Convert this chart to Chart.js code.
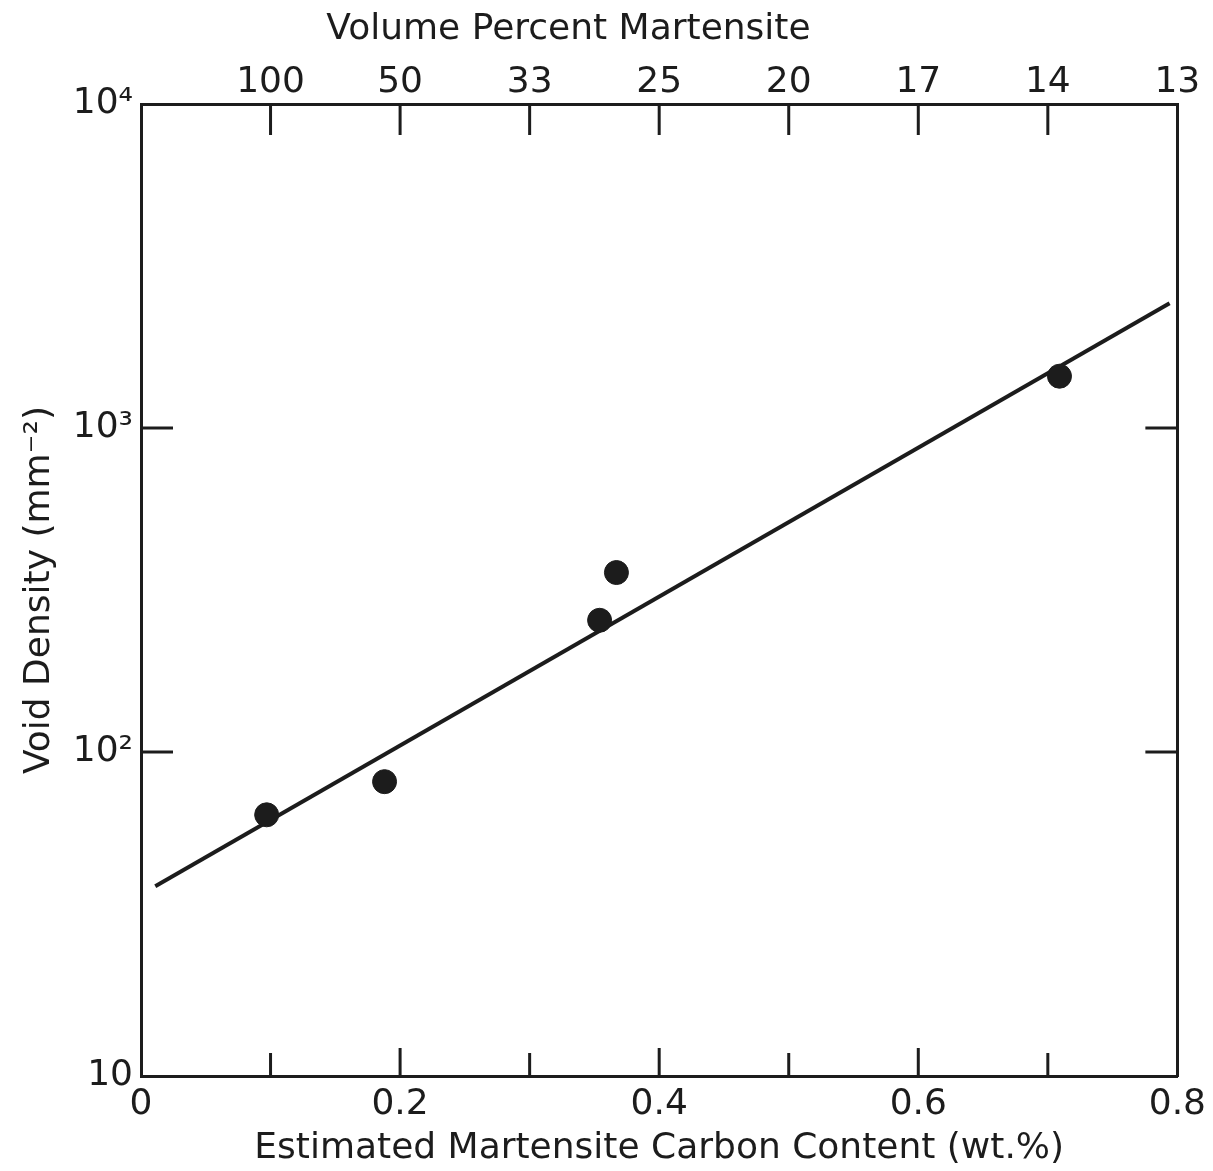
<!DOCTYPE html>
<html lang="en">
<head>
  <meta charset="UTF-8" />
  <title>Void Density vs Martensite Carbon Content</title>
  <style>
    body { margin: 0; background: #fff; }
    #wrap { width: 1213px; height: 1171px; }
  </style>
  <script src="https://cdn.jsdelivr.net/npm/chart.js"></script>
</head>
<body>
  <div id="wrap"><canvas id="chart"></canvas></div>
  <script>
    // DATA
    const carbon = [0.097, 0.188, 0.354, 0.367, 0.709];      // wt.%
    const voidDensity = [64, 81, 255, 358, 1445];            // mm^-2
    const fitX = [0.011, 0.794];
    const fitY = [38.5, 2425];

    // TICKS
    const xTickValues = [0, 0.1, 0.2, 0.3, 0.4, 0.5, 0.6, 0.7, 0.8];
    const xTickLabels = ['0', '', '0.2', '', '0.4', '', '0.6', '', '0.8'];
    const topTickValues = [0.1, 0.2, 0.3, 0.4, 0.5, 0.6, 0.7, 0.8];
    const topTickLabels = ['100', '50', '33', '25', '20', '17', '14', '13'];
    const yTickValues = [10, 100, 1000, 10000];
    const yTickLabels = ['10', '10²', '10³', '10⁴'];

    const INK = '#1c1c1c';
    const FONT = 'DejaVu Sans';

    // inward tick marks drawn off the chart's own scales
    const inwardTicks = {
      id: 'inwardTicks',
      afterDraw(chart) {
        const { ctx, chartArea: a, scales } = chart;
        ctx.save();
        ctx.strokeStyle = INK;
        ctx.lineWidth = 3;
        const line = (x1, y1, x2, y2) => { ctx.beginPath(); ctx.moveTo(x1, y1); ctx.lineTo(x2, y2); ctx.stroke(); };
        scales.x.ticks.forEach((t, i) => {
          if (i === 0 || i === scales.x.ticks.length - 1) return;
          const px = scales.x.getPixelForValue(t.value);
          line(px, a.bottom, px, a.bottom - (i % 2 === 0 ? 28 : 23));
        });
        scales.x2.ticks.forEach((t, i) => {
          if (i === scales.x2.ticks.length - 1) return;
          const px = scales.x2.getPixelForValue(t.value);
          line(px, a.top, px, a.top + 31);
        });
        scales.y.ticks.forEach((t, i) => {
          if (i === 0 || i === scales.y.ticks.length - 1) return;
          const py = scales.y.getPixelForValue(t.value);
          line(a.left, py, a.left + 32, py);
          line(a.right, py, a.right - 32, py);
        });
        ctx.restore();
      }
    };

    // top title sits left of the plot centre in the original
    const topTitle = {
      id: 'topTitle',
      afterDraw(chart) {
        const { ctx } = chart;
        const s = chart.scales.x2;
        ctx.save();
        ctx.fillStyle = INK;
        ctx.font = `36px "${FONT}"`;
        ctx.textAlign = 'center';
        ctx.textBaseline = 'middle';
        ctx.fillText('Volume Percent Martensite', s.getPixelForValue(0.33), 30);
        ctx.restore();
      }
    };

    const border = { display: true, color: INK, width: 3 };

    new Chart(document.getElementById('chart'), {
      type: 'scatter',
      data: {
        datasets: [
          {
            data: carbon.map((c, i) => ({ x: c, y: voidDensity[i] })),
            pointRadius: 12,
            pointHoverRadius: 12,
            backgroundColor: INK,
            borderColor: INK
          },
          {
            data: fitX.map((c, i) => ({ x: c, y: fitY[i] })),
            showLine: true,
            pointRadius: 0,
            borderColor: INK,
            borderWidth: 4
          }
        ]
      },
      options: {
        responsive: true,
        maintainAspectRatio: false,
        animation: false,
        layout: { padding: 0 },
        plugins: { legend: { display: false }, tooltip: { enabled: false } },
        scales: {
          x: {
            type: 'linear', position: 'bottom', min: 0, max: 0.8,
            afterBuildTicks: s => { s.ticks = xTickValues.map(v => ({ value: v })); },
            afterFit: s => { s.height = 95; },
            grid: { display: false, drawTicks: false },
            border,
            ticks: {
              color: INK, padding: 7, maxRotation: 0, autoSkip: false,
              font: { family: FONT, size: 36 },
              callback: (v, i) => xTickLabels[i]
            },
            title: {
              display: true, text: 'Estimated Martensite Carbon Content (wt.%)',
              color: INK, font: { family: FONT, size: 36 }, padding: { top: 0, bottom: 1 }
            }
          },
          x2: {
            type: 'linear', position: 'top', min: 0, max: 0.8,
            afterBuildTicks: s => { s.ticks = topTickValues.map(v => ({ value: v })); },
            afterFit: s => { s.height = 104; },
            grid: { display: false, drawTicks: false },
            border,
            ticks: {
              color: INK, padding: 0, maxRotation: 0, autoSkip: false,
              font: { family: FONT, size: 36 },
              callback: (v, i) => topTickLabels[i]
            }
          },
          y: {
            type: 'logarithmic', position: 'left', min: 10, max: 10000,
            afterBuildTicks: s => { s.ticks = yTickValues.map(v => ({ value: v })); },
            afterFit: s => { s.width = 141; },
            grid: { display: false, drawTicks: false },
            border,
            ticks: {
              color: INK, padding: 8, autoSkip: false,
              font: { family: FONT, size: 36 },
              callback: (v, i) => yTickLabels[i]
            },
            title: {
              display: true, text: 'Void Density (mm⁻²)',
              color: INK, font: { family: FONT, size: 36 }, padding: { top: 18, bottom: 0 }
            }
          },
          y2: {
            type: 'logarithmic', position: 'right', min: 10, max: 10000,
            afterFit: s => { s.width = 34; },
            grid: { display: false, drawTicks: false },
            border,
            ticks: { display: false }
          }
        }
      },
      plugins: [inwardTicks, topTitle]
    });
  </script>
</body>
</html>
